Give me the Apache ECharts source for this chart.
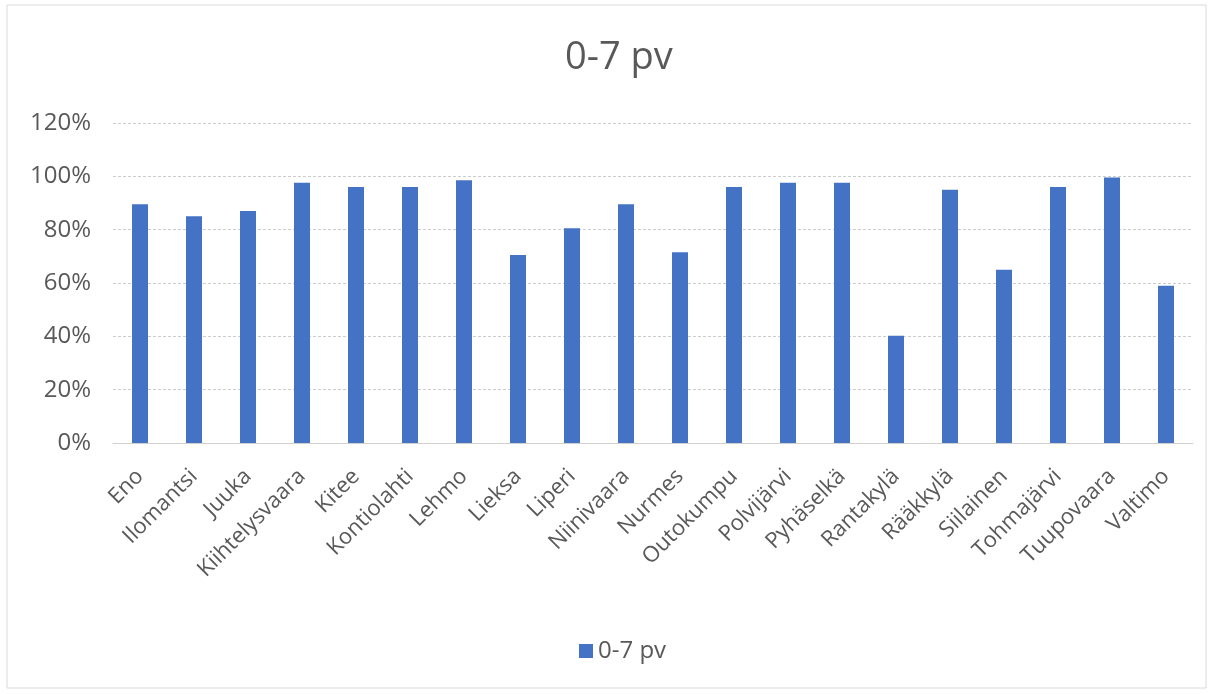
<!DOCTYPE html>
<html><head><meta charset="utf-8">
<script src="https://cdn.jsdelivr.net/npm/echarts@6/dist/echarts.min.js"></script>
<style>html,body{margin:0;padding:0;background:#fff}#c{width:1212px;height:694px}</style>
</head><body><div id="c"></div>
<script>
var categories = ["Eno","Ilomantsi","Juuka","Kiihtelysvaara","Kitee","Kontiolahti","Lehmo","Lieksa","Liperi","Niinivaara","Nurmes","Outokumpu","Polvijärvi","Pyhäselkä","Rantakylä","Rääkkylä","Siilainen","Tohmajärvi","Tuupovaara","Valtimo"];
var values = [89.5, 85, 87, 97.6, 96, 96, 98.5, 70.5, 80.5, 89.5, 71.5, 96, 97.6, 97.6, 40.2, 95, 65, 96, 99.6, 59];
var seriesName = "0-7 pv";
var chart = echarts.init(document.getElementById('c'));
var font = "'Open Sans', 'Noto Sans', sans-serif";
chart.setOption({
  animation: false,
  textStyle: {fontFamily: font},
  title: {text: "0-7 pv", left: 560, top: 34, textStyle: {fontSize: 38, fontWeight: 'normal', color: '#595959', fontFamily: font}},
  graphic: [{type: 'rect', shape: {x: 7, y: 5, width: 1199, height: 683}, style: {fill: 'none', stroke: '#d9d9d9', lineWidth: 1}}],
  grid: {left: 113, right: 19, top: 123, bottom: 251},
  legend: {bottom: 26, left: 574, itemWidth: 14, itemHeight: 14, itemGap: 6, icon: 'rect', textStyle: {fontSize: 24, color: '#595959', fontFamily: font}, data: [seriesName]},
  xAxis: {type: 'category', data: categories,
    axisLine: {lineStyle: {color: '#d0d0d0'}}, axisTick: {show: false},
    axisLabel: {rotate: 45, fontSize: 22, color: '#595959', interval: 0, margin: 30}},
  yAxis: {type: 'value', min: 0, max: 120, interval: 20,
    axisLabel: {formatter: '{value}%', fontSize: 24, color: '#595959', margin: 22},
    axisLine: {show: false}, axisTick: {show: false},
    splitLine: {lineStyle: {color: '#cccccc', type: [3, 2]}}},
  series: [{name: seriesName, type: 'bar', data: values, barWidth: 16, itemStyle: {color: '#4472C4'}}]
});
</script></body></html>
